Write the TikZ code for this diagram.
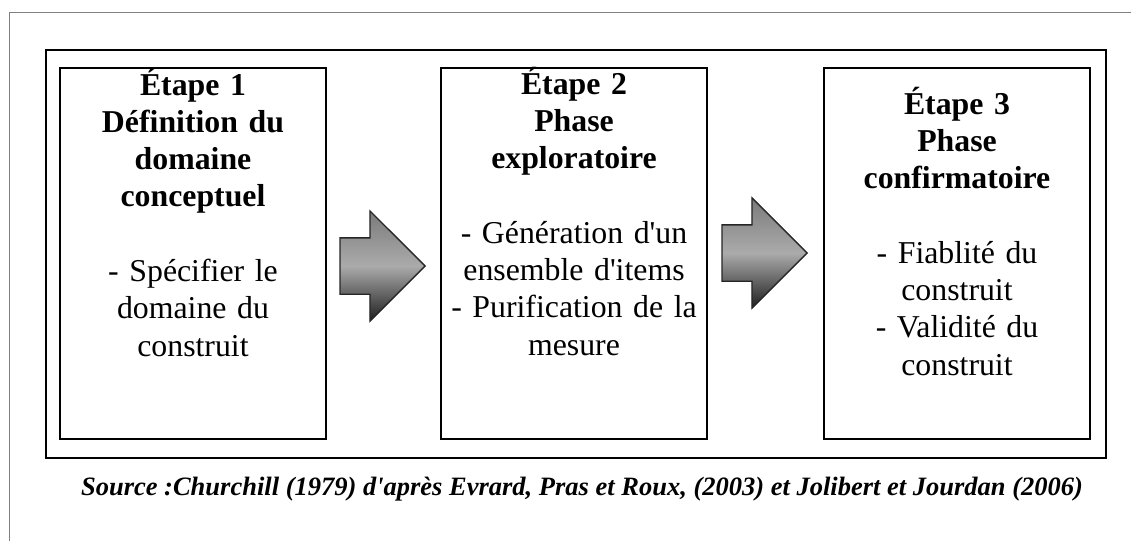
\documentclass[tikz,border=0pt]{standalone}
\usepackage{fontspec}
\setmainfont{Liberation Serif}
\usepackage{tikz}
\usetikzlibrary{shapes.arrows}

\tikzset{
  etape/.style={draw, line width=2pt, minimum width=266pt, minimum height=371pt, inner sep=0pt},
  texte/.style={anchor=base, text width=262pt, align=center, inner sep=0pt, font=\fontsize{31.8}{37.3}\selectfont},
  fleche/.style={single arrow, single arrow head extend=27pt, minimum height=85pt, inner xsep=0pt, inner ysep=27.5pt, anchor=tip,
    draw=black!85, line width=1.3pt, top color=black!52, bottom color=black!88, middle color=black!33},
}

\begin{document}
\begin{tikzpicture}[x=1pt, y=-1pt]
  \useasboundingbox (0,0) rectangle (1131,541);
  \draw[black!50, line width=1pt] (9,541) -- (9,12) -- (1131,12);
  \node[draw, line width=2pt, minimum width=1060pt, minimum height=408pt, inner sep=0pt] (cadre) at (576,254) {};
  \node[etape] (etapeA) at (193,253.5) {};
  \node[etape] (etapeB) at (574,253.5) {};
  \node[etape] (etapeC) at (957,253.5) {};
  \node[texte] (texteA) at ([yshift=-28pt]etapeA.north) {\textbf{Étape 1\\Définition du\\domaine\\conceptuel}\\[37.3pt]- Spécifier le\\domaine du\\construit};
  \node[texte] (texteB) at ([yshift=-27pt]etapeB.north) {\textbf{Étape 2\\Phase\\exploratoire}\\[37.3pt]- Génération d\textquotesingle un\\ensemble d\textquotesingle items\\- Purification de la\\mesure};
  \node[texte] (texteC) at ([yshift=-47pt]etapeC.north) {\textbf{Étape 3\\Phase\\confirmatoire}\\[37.3pt]- Fiablité du\\construit\\- Validité du\\construit};
  \node[fleche] (flecheA) at (426,266) {};
  \node[fleche] (flecheB) at (808,253) {};
  \node[anchor=base, inner sep=0pt, font=\fontsize{26.5}{30}\selectfont\bfseries\itshape] (source) at (582,495) {Source :Churchill (1979) d\textquotesingle après Evrard, Pras et Roux, (2003) et Jolibert et Jourdan (2006)};
\end{tikzpicture}
\end{document}
